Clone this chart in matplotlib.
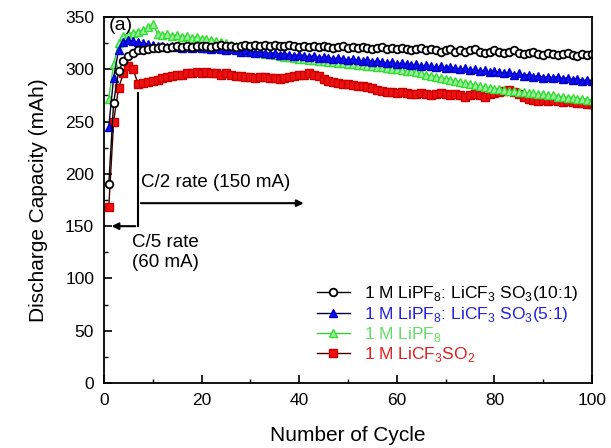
import matplotlib
matplotlib.use('Agg')
import matplotlib.pyplot as plt
from matplotlib.ticker import MultipleLocator

plt.rcParams['font.family'] = ['Liberation Sans', 'DejaVu Sans']
plt.rcParams['mathtext.fontset'] = 'custom'
plt.rcParams['mathtext.rm'] = 'Liberation Sans'

# Datos (ciclos 1..100)
cycles = list(range(1, 101))

cap_10_1 = [190, 268, 298, 308, 313, 316, 318, 318, 319, 320,
            320, 321, 320, 321, 322, 321, 322, 321, 322, 322,
            322, 321, 322, 323, 322, 322, 321, 322, 323, 322,
            323, 322, 323, 322, 323, 322, 322, 323, 322, 321,
            322, 321, 322, 321, 322, 321, 320, 321, 322, 320,
            321, 320, 321, 320, 319, 320, 321, 319, 320, 319,
            320, 319, 318, 319, 320, 318, 319, 318, 317, 318,
            319, 317, 318, 317, 318, 319, 317, 316, 317, 318,
            317, 316, 317, 318, 316, 315, 316, 317, 315, 314,
            316, 315, 314, 315, 316, 314, 313, 315, 314, 315]

cap_5_1 = [245, 292, 318, 326, 328, 327, 326, 325, 324, 323,
           322, 322, 321, 322, 321, 320, 321, 320, 321, 320,
           320, 319, 320, 319, 318, 319, 318, 317, 318, 317,
           316, 317, 316, 315, 316, 314, 315, 314, 313, 314,
           313, 312, 313, 311, 312, 311, 310, 311, 310, 309,
           310, 309, 308, 309, 307, 308, 307, 306, 307, 305,
           306, 305, 304, 305, 303, 304, 303, 302, 303, 301,
           302, 301, 300, 301, 299, 300, 298, 299, 297, 298,
           297, 296, 297, 295, 296, 294, 295, 293, 294, 292,
           293, 292, 293, 291, 292, 290, 291, 289, 290, 289]

cap_lipf = [272, 305, 325, 332, 334, 335, 336, 338, 340, 343,
            334, 333, 334, 332, 333, 331, 332, 330, 331, 329,
            329, 328, 327, 326, 325, 323, 322, 321, 320, 318,
            317, 316, 315, 315, 314, 313, 312, 312, 311, 310,
            310, 309, 309, 308, 308, 307, 307, 306, 306, 305,
            305, 304, 304, 303, 303, 302, 302, 301, 300, 300,
            299, 298, 298, 297, 296, 295, 294, 293, 292, 291,
            290, 289, 288, 287, 286, 285, 284, 283, 282, 281,
            281, 280, 279, 279, 278, 278, 277, 277, 276, 276,
            275, 275, 274, 274, 273, 273, 272, 272, 271, 271]

cap_licf = [168, 250, 282, 296, 303, 300, 286, 287, 288, 289,
            290, 292, 293, 294, 295, 295, 296, 296, 297, 296,
            297, 296, 296, 295, 296, 295, 294, 294, 293, 293,
            292, 293, 293, 292, 292, 291, 292, 293, 294, 295,
            295, 296, 295, 294, 291, 289, 288, 287, 286, 286,
            285, 284, 284, 283, 282, 280, 279, 278, 278, 277,
            278, 277, 276, 276, 277, 276, 275, 276, 277, 276,
            275, 276, 275, 274, 275, 276, 275, 274, 276, 277,
            278, 279, 280, 278, 276, 274, 272, 271, 270, 271,
            270, 271, 270, 269, 270, 269, 268, 268, 267, 267]

labels = [r'1 M LiPF$_8$: LiCF$_3$ SO$_3$(10:1)',
          r'1 M LiPF$_8$: LiCF$_3$ SO$_3$(5:1)',
          r'1 M LiPF$_8$',
          r'1 M LiCF$_3$SO$_2$']

fig = plt.figure(figsize=(6.11, 4.48), dpi=100)
ax = fig.add_axes([0.170, 0.145, 0.799, 0.817])

l_red, = ax.plot(cycles, cap_licf, color='#400000', lw=1, marker='s', ms=5.5,
                 mfc='#ee1111', mec='#cc0000', label=labels[3])
l_grn, = ax.plot(cycles, cap_lipf, color='#33cc33', lw=1, marker='^', ms=5.5,
                 mfc='#99ee99', mec='#33dd33', label=labels[2])
l_blu, = ax.plot(cycles, cap_5_1, color='#000033', lw=1, marker='^', ms=5.5,
                 mfc='#1111ee', mec='#0000cc', label=labels[1])
l_blk, = ax.plot(cycles, cap_10_1, color='black', lw=1, marker='o', ms=5.5,
                 mfc='white', mec='black', mew=1.3, label=labels[0])

# indicaciones de regimen
ax.plot([7, 7], [150, 277], color='black', lw=1.5)
ax.annotate('', xy=(1.0, 150), xytext=(7, 150),
            arrowprops=dict(arrowstyle='-|>', color='black', lw=1.5, mutation_scale=10))
ax.annotate('', xy=(41.5, 172), xytext=(7, 172),
            arrowprops=dict(arrowstyle='-|>', color='black', lw=1.5, mutation_scale=10))
ax.text(7.7, 192, 'C/2 rate (150 mA)', fontsize=13.5, va='center')
ax.text(5.8, 125, 'C/5 rate\n(60 mA)', fontsize=13.5, va='center', linespacing=1.25)
ax.text(1.0, 342, '(a)', fontsize=14, va='center')

ax.set_xlim(0, 100)
ax.set_ylim(0, 350)
ax.xaxis.set_major_locator(MultipleLocator(20))
ax.xaxis.set_minor_locator(MultipleLocator(10))
ax.yaxis.set_major_locator(MultipleLocator(50))
ax.yaxis.set_minor_locator(MultipleLocator(25))
ax.tick_params(which='both', direction='in', labelsize=12.5, top=False, right=False)
ax.tick_params(which='major', length=6, width=1.2, pad=7)
ax.tick_params(which='minor', length=3, width=1.0)
for s in ax.spines.values():
    s.set_linewidth(1.3)

ax.set_xlabel('Number of Cycle', fontsize=15, labelpad=13)
ax.set_ylabel('Discharge Capacity (mAh)', fontsize=15, labelpad=12)

leg = ax.legend(handles=[l_blk, l_blu, l_grn, l_red], loc='lower right',
                bbox_to_anchor=(1.0, 0.014), frameon=False, fontsize=12.5,
                handlelength=1.9, handletextpad=0.8, labelspacing=0.07, borderaxespad=0.4)
for txt, col in zip(leg.get_texts(), ['black', '#2222dd', '#66dd66', '#e02020']):
    txt.set_color(col)

fig.savefig('out.png', dpi=100)
